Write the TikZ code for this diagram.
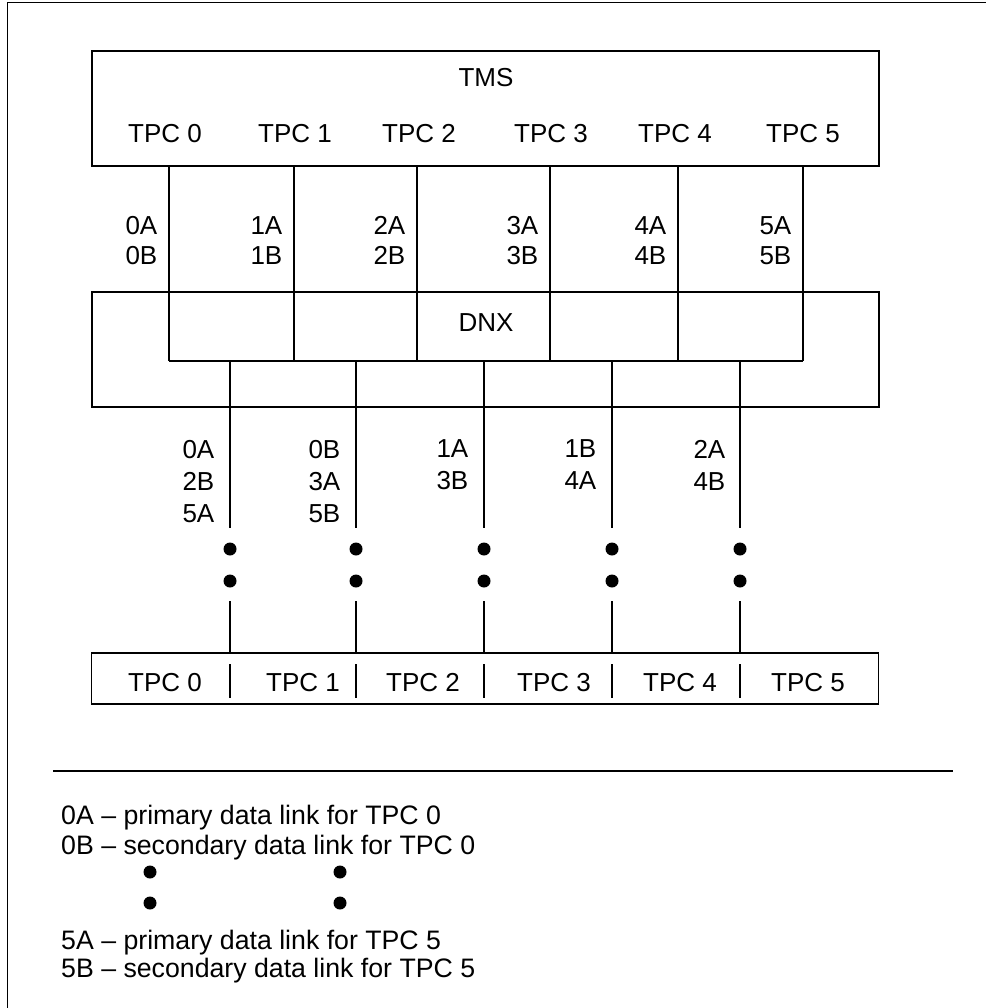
\documentclass[tikz,border=0pt]{standalone}
\usepackage{fontspec}
\setmainfont{Liberation Sans}
\usetikzlibrary{positioning,calc}
\tikzset{
  unitbox/.style={draw,line width=1.7pt,minimum width=787pt,inner sep=0pt},
  boxtext/.style={font=\fontsize{26}{30}\selectfont,inner sep=0pt,anchor=base},
  linktext/.style={font=\fontsize{26}{30}\selectfont,inner sep=0pt,align=right,anchor=north east},
  trunktext/.style={font=\fontsize{26}{32}\selectfont,inner sep=0pt,align=right,anchor=north east},
  keytext/.style={font=\fontsize{26.7}{30}\selectfont,inner sep=0pt,anchor=base west},
  bigdot/.style={circle,fill,inner sep=0pt,minimum size=13pt},
  link/.style={line width=1.5pt},
}
\begin{document}
\begin{tikzpicture}[x=1pt,y=-1pt]
\useasboundingbox (0,0) rectangle (986,1008);

% frame, only its top and left edges are in view
\draw[line width=1pt] (7,1008) -- (7,3) -- (986,3);

% the three units
\node[unitbox,minimum height=115pt] (tms) at (485.5,108.5) {};
\node[unitbox,minimum height=115pt] (dnx) at (485.5,349.5) {};
\node[unitbox,minimum height=51pt] (tpcrow) at (485,678.5) {};

% names inside the units
\node[boxtext] (tmsname) at (486,86.3) {TMS};
\node[boxtext] (dnxname) at (486,331.3) {DNX};
\node[boxtext] (up0) at (165,142.3) {TPC 0};
\node[boxtext] (up1) at (295,142.3) {TPC 1};
\node[boxtext] (up2) at (419,142.3) {TPC 2};
\node[boxtext] (up3) at (551,142.3) {TPC 3};
\node[boxtext] (up4) at (675,142.3) {TPC 4};
\node[boxtext] (up5) at (803,142.3) {TPC 5};
\node[boxtext] (low0) at (165,691.3) {TPC 0};
\node[boxtext] (low1) at (303,691.3) {TPC 1};
\node[boxtext] (low2) at (423,691.3) {TPC 2};
\node[boxtext] (low3) at (554,691.3) {TPC 3};
\node[boxtext] (low4) at (680,691.3) {TPC 4};
\node[boxtext] (low5) at (808,691.3) {TPC 5};

% TMS side links end on a rail inside DNX
\coordinate (a0) at (169,361);
\coordinate (a1) at (294,361);
\coordinate (a2) at (417,361);
\coordinate (a3) at (550,361);
\coordinate (a4) at (678,361);
\coordinate (a5) at (803,361);
\draw[link]
(tms.south -| a0) -- (a0)
(tms.south -| a1) -- (a1)
(tms.south -| a2) -- (a2)
(tms.south -| a3) -- (a3)
(tms.south -| a4) -- (a4)
(tms.south -| a5) -- (a5);
\draw[link] (a0) -- (a5);

\node[linktext] (l0) at (157.5,216) {0A\\0B};
\node[linktext] (l1) at (282.5,216) {1A\\1B};
\node[linktext] (l2) at (405.5,216) {2A\\2B};
\node[linktext] (l3) at (538.5,216) {3A\\3B};
\node[linktext] (l4) at (666.5,216) {4A\\4B};
\node[linktext] (l5) at (791.5,216) {5A\\5B};

% trunks from DNX down to the TPC row
\coordinate (b0) at (230,362);
\coordinate (b1) at (356,362);
\coordinate (b2) at (484,362);
\coordinate (b3) at (612,362);
\coordinate (b4) at (740,362);
\node[bigdot] (p0) at (230,549) {};
\node[bigdot] (p1) at (356,549) {};
\node[bigdot] (p2) at (484,549) {};
\node[bigdot] (p3) at (612,549) {};
\node[bigdot] (p4) at (740,549) {};
\node[bigdot] (q0) at (230,581) {};
\node[bigdot] (q1) at (356,581) {};
\node[bigdot] (q2) at (484,581) {};
\node[bigdot] (q3) at (612,581) {};
\node[bigdot] (q4) at (740,581) {};

\path
(b0) edge[link,shorten >=14.5pt] (p0.north)
(b1) edge[link,shorten >=14.5pt] (p1.north)
(b2) edge[link,shorten >=14.5pt] (p2.north)
(b3) edge[link,shorten >=14.5pt] (p3.north)
(b4) edge[link,shorten >=14.5pt] (p4.north);
\path
(q0.south) edge[link,shorten <=13.5pt] (tpcrow.north -| q0)
(q1.south) edge[link,shorten <=13.5pt] (tpcrow.north -| q1)
(q2.south) edge[link,shorten <=13.5pt] (tpcrow.north -| q2)
(q3.south) edge[link,shorten <=13.5pt] (tpcrow.north -| q3)
(q4.south) edge[link,shorten <=13.5pt] (tpcrow.north -| q4);
% dividers inside the TPC row
\path
(tpcrow.north -| q0) edge[link,shorten <=12pt,shorten >=7pt] (tpcrow.south -| q0)
(tpcrow.north -| q1) edge[link,shorten <=12pt,shorten >=7pt] (tpcrow.south -| q1)
(tpcrow.north -| q2) edge[link,shorten <=12pt,shorten >=7pt] (tpcrow.south -| q2)
(tpcrow.north -| q3) edge[link,shorten <=12pt,shorten >=7pt] (tpcrow.south -| q3)
(tpcrow.north -| q4) edge[link,shorten <=12pt,shorten >=7pt] (tpcrow.south -| q4);

\node[trunktext] (m0) at (214.5,439.7) {0A\\2B\\5A};
\node[trunktext] (m1) at (340.5,439.7) {0B\\3A\\5B};
\node[trunktext] (m2) at (468.5,439.7) {1A\\3B};
\node[trunktext] (m3) at (596.5,439.7) {1B\\4A};
\node[trunktext] (m4) at (725.5,439.7) {2A\\4B};

% key
\draw[line width=2.2pt] (53,771) -- (953,771);
\node[keytext] (key0a) at (61,824.3) {0A \textendash{} primary data link for TPC 0};
\node[keytext] (key0b) at (61,854.3) {0B \textendash{} secondary data link for TPC 0};
\node[bigdot] (kd1) at (150,872) {};
\node[bigdot] (kd2) at (340,872) {};
\node[bigdot] (kd3) at (150,903) {};
\node[bigdot] (kd4) at (340,903) {};
\node[keytext] (key5a) at (61,949.3) {5A \textendash{} primary data link for TPC 5};
\node[keytext] (key5b) at (61,977.3) {5B \textendash{} secondary data link for TPC 5};

\end{tikzpicture}
\end{document}
